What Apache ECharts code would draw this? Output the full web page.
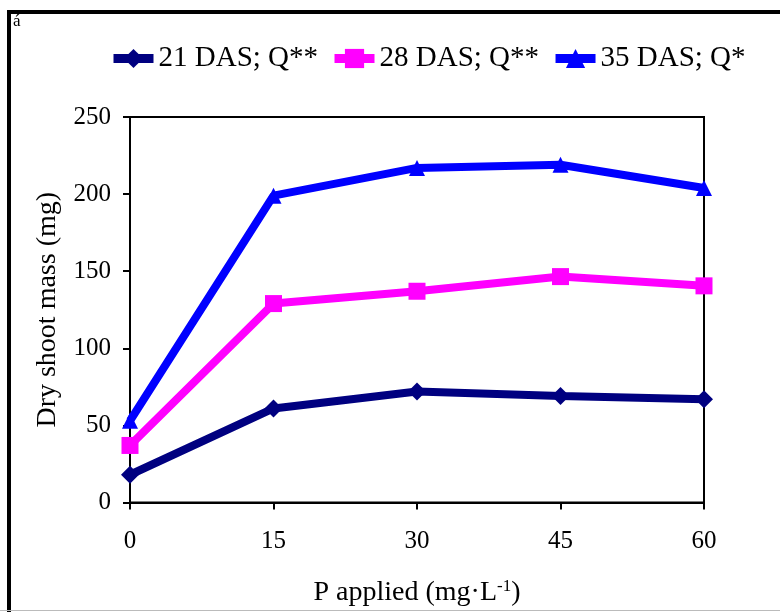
<!DOCTYPE html>
<html>
<head>
<meta charset="utf-8">
<title>Dry shoot mass</title>
<script src="https://cdn.jsdelivr.net/npm/echarts@6/dist/echarts.min.js"></script>
<style>
    html, body { margin: 0; padding: 0; background: #fff; }
    #chart { width: 780px; height: 612px; }
</style>
</head>
<body>
<div id="chart"></div>
<script>
    // P applied (mg/L)
    var pApplied = [0, 15, 30, 45, 60];
    var das21 = [18, 61, 72, 69, 67];
    var das28 = [37, 129, 137, 146.5, 140.5];
    var das35 = [53, 199, 217, 219, 204];
    var seriesNames = ['21 DAS; Q**', '28 DAS; Q**', '35 DAS; Q*'];
    var seriesColors = ['#000080', '#FF00FF', '#0000FF'];
    var seriesSymbols = ['diamond', 'rect', 'triangle'];
    var symbolSizes = [18, 17, 16];

    var font = '"Liberation Serif", "Times New Roman", serif';

    function pairs(values) {
        var out = [];
        for (var i = 0; i < pApplied.length; i++) {
            out.push([pApplied[i], values[i]]);
        }
        return out;
    }

    var allValues = [das21, das28, das35];
    var series = [];
    for (var i = 0; i < allValues.length; i++) {
        series.push({
            name: seriesNames[i],
            type: 'line',
            data: pairs(allValues[i]),
            symbol: seriesSymbols[i],
            symbolSize: symbolSizes[i],
            lineStyle: { width: 8, color: seriesColors[i] },
            itemStyle: { color: seriesColors[i] },
            z: 3 + i
        });
    }

    var chart = echarts.init(document.getElementById('chart'));
    chart.setOption({
        animation: false,
        backgroundColor: '#fff',
        textStyle: { fontFamily: font, color: '#000' },
        graphic: [
            {
                type: 'rect',
                shape: { x: 9, y: 12, width: 820, height: 660 },
                style: { fill: 'none', stroke: '#000', lineWidth: 4 },
                silent: true
            },
            {
                type: 'line',
                shape: { x1: 0, y1: 610.5, x2: 780, y2: 610.5 },
                style: { stroke: '#bbb', lineWidth: 1 },
                silent: true
            },
            {
                type: 'text',
                left: 13,
                top: 13,
                style: { text: 'á', fontSize: 17, fontFamily: font, fill: '#000' }
            }
        ],
        legend: {
            left: 104,
            top: 39,
            itemWidth: 40,
            itemHeight: 24,
            itemGap: 12,
            lineStyle: { width: 9 },
            textStyle: { fontSize: 29, fontFamily: font, color: '#000' },
            data: seriesNames
        },
        grid: {
            left: 130,
            right: 76,
            top: 117,
            bottom: 109,
            show: true,
            borderColor: '#000',
            borderWidth: 2,
            backgroundColor: 'transparent'
        },
        xAxis: {
            type: 'value',
            min: 0,
            max: 60,
            interval: 15,
            name: 'P applied (mg·L{sup|-1})',
            nameLocation: 'middle',
            nameGap: 76,
            nameTextStyle: {
                fontSize: 28,
                fontFamily: font,
                color: '#000',
                rich: {
                    sup: { fontSize: 17, fontFamily: font, verticalAlign: 'top', padding: [0, 0, 12, 0] }
                }
            },
            axisLine: { lineStyle: { color: '#000', width: 2 } },
            axisTick: { show: true, length: 7, inside: false, lineStyle: { color: '#000', width: 2 } },
            axisLabel: { fontSize: 25, fontFamily: font, color: '#000', margin: 26 },
            splitLine: { show: false }
        },
        yAxis: {
            type: 'value',
            min: 0,
            max: 250,
            interval: 50,
            name: 'Dry shoot mass (mg)',
            nameLocation: 'middle',
            nameGap: 68,
            nameTextStyle: { fontSize: 28, fontFamily: font, color: '#000' },
            axisLine: { show: true, lineStyle: { color: '#000', width: 2 } },
            axisTick: { show: true, length: 7, inside: false, lineStyle: { color: '#000', width: 2 } },
            axisLabel: { fontSize: 25, fontFamily: font, color: '#000', margin: 19 },
            splitLine: { show: false }
        },
        series: series
    });
</script>
</body>
</html>
